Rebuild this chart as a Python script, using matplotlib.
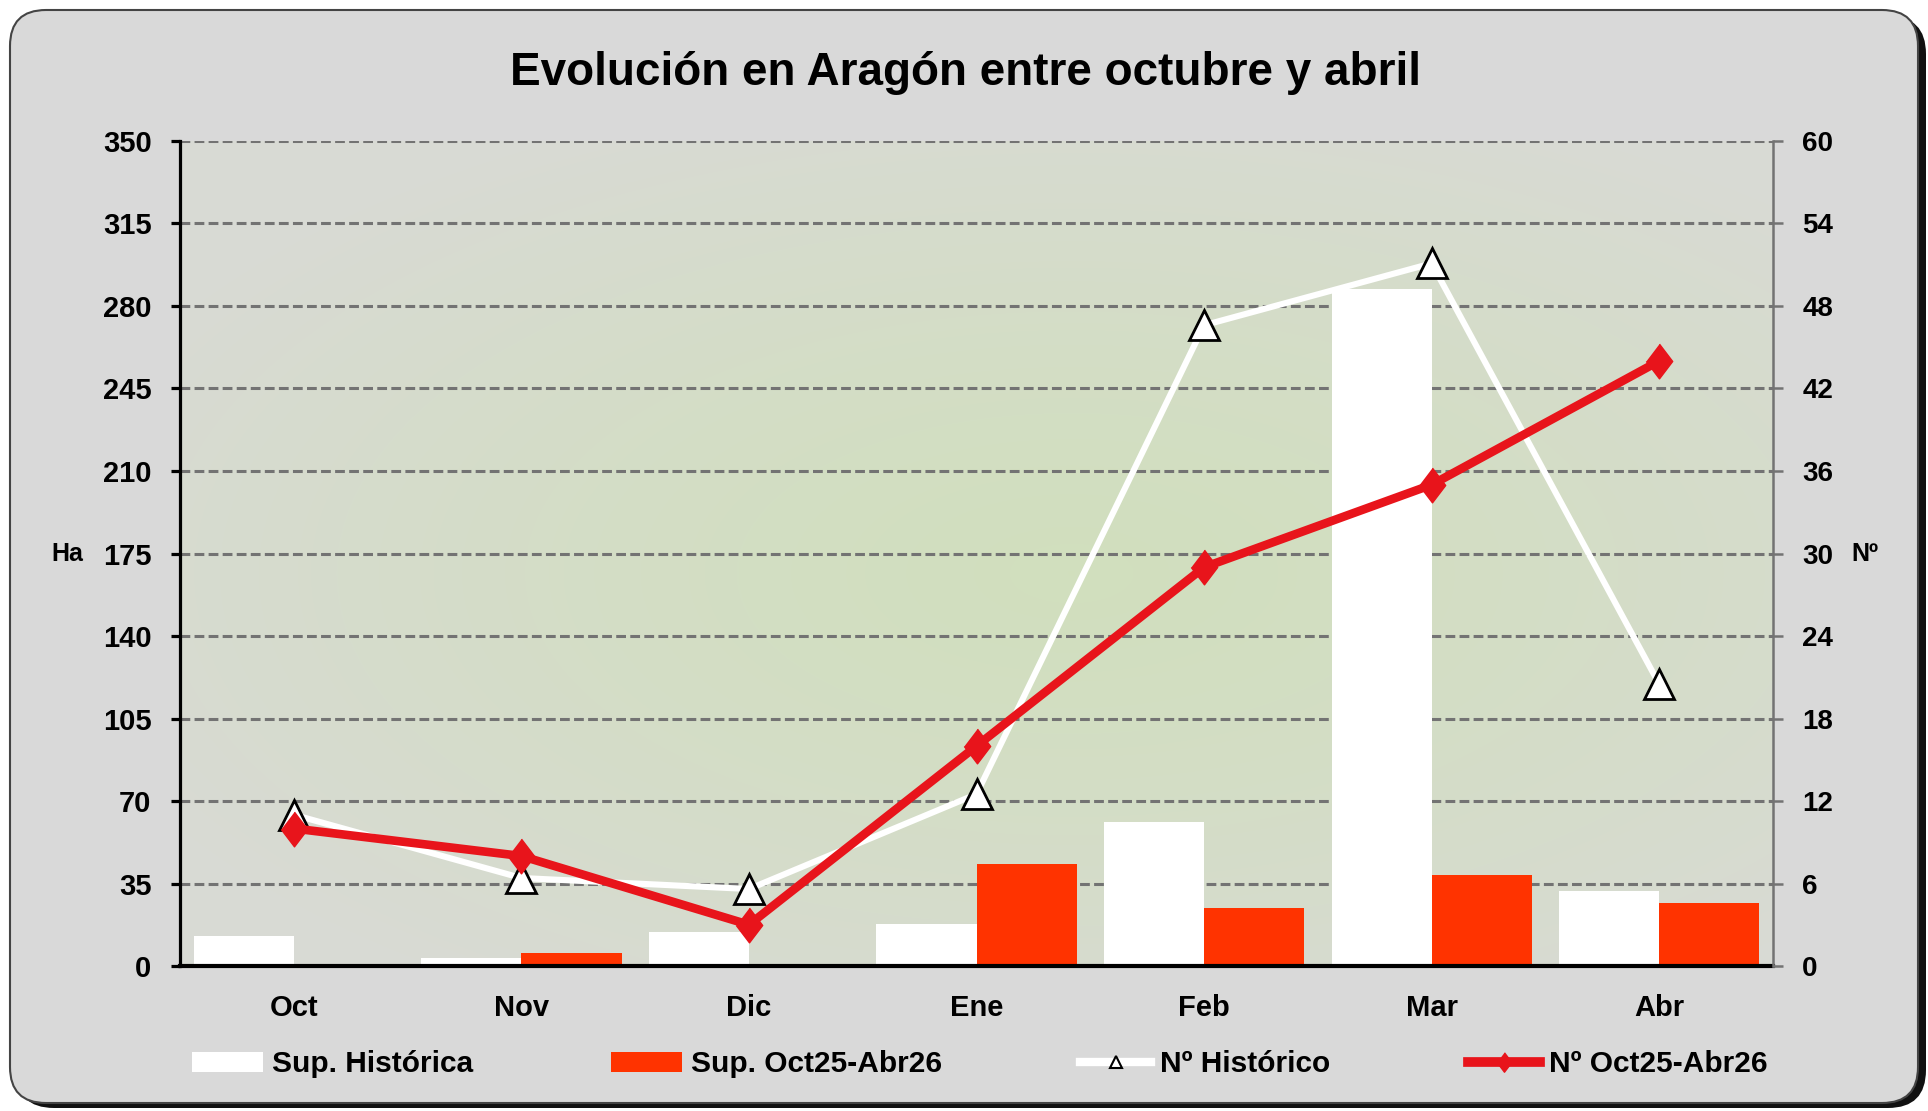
import numpy as np
import matplotlib
matplotlib.use("Agg")
import matplotlib.pyplot as plt
from matplotlib.patches import FancyBboxPatch, Patch
from matplotlib.lines import Line2D

# Chart data
months = ["Oct", "Nov", "Dic", "Ene", "Feb", "Mar", "Abr"]
sup_historica = [12.7, 3.6, 14.4, 17.7, 61.3, 287.0, 31.8]
sup_actual = [0.0, 5.6, 0.0, 43.4, 24.4, 38.5, 26.9]
num_historico = [11.0, 6.4, 5.6, 12.5, 46.6, 51.1, 20.5]
num_actual = [10.0, 8.0, 3.0, 16.0, 29.0, 35.0, 44.0]

left_ticks = [0, 35, 70, 105, 140, 175, 210, 245, 280, 315, 350]
right_ticks = [0, 6, 12, 18, 24, 30, 36, 42, 48, 54, 60]

FONT = ["Liberation Sans", "DejaVu Sans"]
RED_BAR = "#ff3300"
RED_LINE = "#e8141b"
GRID = "#737373"

plt.rcParams["font.family"] = FONT
plt.rcParams["font.weight"] = "bold"

fig = plt.figure(figsize=(19.28, 11.11), dpi=100)
fig.patch.set_facecolor("white")

# Rounded frame with a dark shadow on the lower right
shadow = FancyBboxPatch((0.16, 0.03), 19.10, 10.92,
                        boxstyle="round,pad=0,rounding_size=0.38",
                        transform=fig.dpi_scale_trans, facecolor="#111111",
                        edgecolor="none", zorder=-3)
frame = FancyBboxPatch((0.10, 0.08), 19.08, 10.93,
                       boxstyle="round,pad=0,rounding_size=0.36",
                       transform=fig.dpi_scale_trans, facecolor="#d9d9d9",
                       edgecolor="#444444", linewidth=1.5, zorder=-2)
fig.patches.extend([shadow, frame])

ax = fig.add_axes([0.0934, 0.1305, 0.8262, 0.7426])
ax2 = ax.twinx()

x = np.arange(len(months))
w = 0.44

# Soft greenish glow behind the plot area
gy, gx = np.mgrid[-1:1:200j, -1:1:300j]
r = np.clip(np.sqrt(((gx - 0.12) / 1.35) ** 2 + ((gy - 0.05) / 1.25) ** 2), 0, 1)
centre = np.array([0.820, 0.875, 0.745])
edge = np.array([0.850, 0.855, 0.835])
glow = centre + (edge - centre) * (r[..., None] ** 1.3)
ax.imshow(glow, extent=(-0.5, 6.5, 0, 350), aspect="auto", zorder=0,
          interpolation="bilinear")
ax.patch.set_visible(False)

ax.bar(x - w / 2, sup_historica, w, color="white", zorder=2)
ax.bar(x + w / 2, sup_actual, w, color=RED_BAR, zorder=2)

ax.set_xlim(-0.5, 6.5)
ax.set_ylim(0, 350)
ax.set_yticks(left_ticks)
ax.set_xticks(x)
ax.set_xticklabels(months)
ax.yaxis.grid(True, color=GRID, linewidth=2.2, dashes=(3.2, 1.4), zorder=1)
ax.set_axisbelow(True)

diamond = [(0, 1), (0.76, 0), (0, -1), (-0.76, 0)]
ax2.plot(x, num_historico, color="white", linewidth=4.4, marker="^",
         markersize=22, markerfacecolor="white", markeredgecolor="black",
         markeredgewidth=2, zorder=3)
ax2.plot(x, num_actual, color=RED_LINE, linewidth=6.2, marker=diamond,
         markersize=25, markerfacecolor=RED_LINE, markeredgecolor=RED_LINE,
         zorder=4)
ax2.set_ylim(0, 60)
ax2.set_yticks(right_ticks)

for a in (ax, ax2):
    for s in a.spines.values():
        s.set_visible(False)
ax.spines["left"].set_visible(True)
ax.spines["left"].set_color("black")
ax.spines["left"].set_linewidth(2.3)
ax.spines["bottom"].set_visible(True)
ax.spines["bottom"].set_color("black")
ax.spines["bottom"].set_linewidth(3)
ax2.spines["right"].set_visible(True)
ax2.spines["right"].set_color(GRID)
ax2.spines["right"].set_linewidth(1.8)

ax.tick_params(axis="y", direction="out", length=6.5, width=2.3,
               color="black", pad=14, labelsize=21)
ax.tick_params(axis="x", length=0, pad=20, labelsize=21)
ax2.tick_params(axis="y", direction="out", length=7, width=1.8,
                color=GRID, pad=14, labelsize=20)

fig.text(0.501, 0.934, "Evolución en Aragón entre octubre y abril",
         ha="center", va="center", fontsize=33, fontweight="bold")
fig.text(0.035, 0.5 * (0.1305 + 0.873), "Ha", ha="center", va="center",
         fontsize=18, fontweight="bold")
fig.text(0.967, 0.5 * (0.1305 + 0.873), "Nº", ha="center", va="center",
         fontsize=18, fontweight="bold")

handles = [
    Patch(facecolor="white", edgecolor="none"),
    Patch(facecolor=RED_BAR, edgecolor="none"),
    Line2D([], [], color="white", linewidth=6, marker="^", markersize=9,
           markerfacecolor="white", markeredgecolor="black", markeredgewidth=1.5),
    Line2D([], [], color=RED_LINE, linewidth=7, marker=diamond, markersize=14,
           markerfacecolor=RED_LINE, markeredgecolor=RED_LINE),
]
labels = ["Sup. Histórica", "Sup. Oct25-Abr26", "Nº Histórico", "Nº Oct25-Abr26"]
fig.legend(handles, labels, loc="center", bbox_to_anchor=(0.508, 0.042),
           bbox_transform=fig.transFigure, ncol=4, frameon=False,
           fontsize=21.5, handlelength=2.4, handleheight=0.65,
           handletextpad=0.3, columnspacing=4.6)

fig.savefig("out.png", dpi=100)
